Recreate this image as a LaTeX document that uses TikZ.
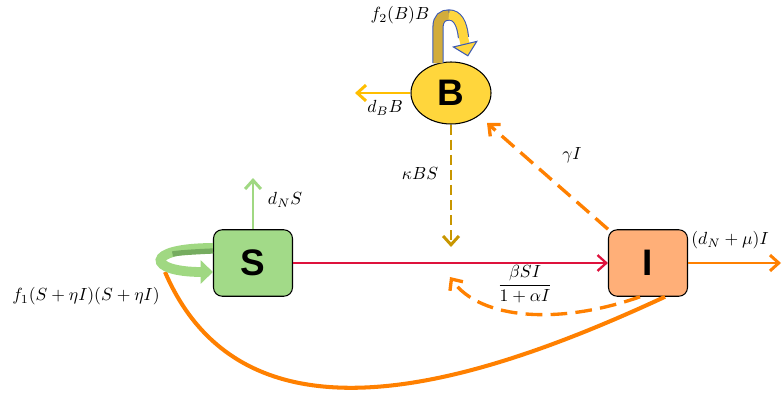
\documentclass[tikz,border=0pt]{standalone}
\usepackage{fontspec}
\setsansfont{Liberation Sans}
\usepackage{amsmath}
\usepackage{tikz}
\usetikzlibrary{shapes.geometric, arrows.meta, positioning, calc}
\definecolor{myred}{RGB}{222,18,60}
\definecolor{myorange}{RGB}{255,128,0}
\definecolor{mygold}{RGB}{200,150,0}
\definecolor{myyellow}{RGB}{255,190,0}
\definecolor{hdryellow}{RGB}{255,214,60}
\definecolor{hdrgreen}{RGB}{162,218,136}
\definecolor{hdrorange}{RGB}{255,175,120}
\definecolor{mygreen}{RGB}{160,216,130}
\definecolor{darkgreen}{RGB}{118,172,96}
\definecolor{loopgold}{RGB}{210,172,60}
\definecolor{loopblue}{RGB}{60,90,180}
\tikzset{
  block/.style={rectangle, draw=black, text width=1.2cm, align=center,
    minimum width=1.58cm, minimum height=1.33cm, rounded corners=5pt,
    line width=0.6pt, font=\fontsize{21}{24}\sffamily\bfseries\selectfont},
  blob/.style={ellipse, draw=black, fill=hdryellow, minimum width=1.6cm,
    minimum height=1.24cm, line width=0.6pt,
    font=\fontsize{21}{24}\sffamily\bfseries\selectfont},
  arrow/.style={-{Straight Barb[length=5pt, width=9pt]}, line width=1.7pt},
  dasharrow/.style={arrow, line width=1.9pt, dash pattern=on 9.5pt off 4.7pt},
  lbl/.style={font=\normalsize, inner sep=1pt}
}
\begin{document}
\begin{tikzpicture}
  \useasboundingbox (0,0) rectangle (15.64,-7.88);
  \node[blob] (B) at (9.02,-1.86) {B};
  \node[block, fill=hdrgreen] (S) at (5.06,-5.26) {S};
  \node[block, fill=hdrorange] (I) at (12.96,-5.26) {I};

  % free ends
  \coordinate (iout) at (15.62,-5.26);
  \coordinate (bout) at (7.1,-1.86);
  \coordinate (sout) at (5.06,-3.56);
  \coordinate (kb) at (9.02,-4.94);
  \coordinate (gb) at (9.74,-2.46);
  \coordinate (ret) at (9.0,-5.54);
  \coordinate (fin) at (3.3,-5.44);

  % Edges
  \draw[arrow, myred, line width=1.3pt] (S) -- (I);
  \draw[arrow, myorange] (I) -- (iout);
  \draw[arrow, myyellow] (B) -- (bout);
  \draw[arrow, mygreen] (S) -- (sout);
  \draw[arrow, mygold, dash pattern=on 5.7pt off 2.9pt] (B) -- (kb);
  \draw[dasharrow, myorange] (I.north west) -- (gb);
  \draw[dasharrow, myorange] ([xshift=-0.16cm]I.south) .. controls (11.2,-6.5) and (9.6,-6.4) .. (ret);
  \draw[myorange, line width=2.3pt] ([xshift=0.34cm]I.south) .. controls (9.5,-7.7) and (4.9,-9.15) .. (fin);

  % loop on S
  \draw[line width=5.6pt, mygreen, -{Triangle[length=7pt, width=13pt]}]
    ([yshift=0.3cm]S.west) .. controls (2.85,-4.96) and (2.95,-5.44) .. ([yshift=-0.18cm]S.west);
  \draw[line width=3pt, darkgreen]
    ([yshift=0.24cm]S.west) .. controls (3.8,-5.04) and (3.55,-5.06) .. (3.45,-5.08);

  % loop on B
  \draw[line width=6.4pt, loopblue] (8.76,-1.26) -- (8.76,-0.55) .. controls (8.76,-0.36) and (8.86,-0.3) .. (8.98,-0.3)
    .. controls (9.14,-0.3) and (9.24,-0.45) .. (9.27,-0.75);
  \draw[line width=5.2pt, loopgold] (8.76,-1.26) -- (8.76,-0.55) .. controls (8.76,-0.36) and (8.86,-0.3) .. (8.98,-0.3);
  \draw[line width=5.2pt, hdryellow, -{Triangle[length=7.5pt, width=15pt, fill=hdryellow, color=loopblue, line width=0.6pt]}]
    (8.98,-0.3) .. controls (9.14,-0.3) and (9.24,-0.45) .. (9.27,-0.75) -- (9.36,-1.13);

  % labels
  \node[lbl] (lf2) at (8.0,-0.3) {$f_2(B)B$};
  \node[lbl] (ldb) at (7.7,-2.16) {$d_BB$};
  \node[lbl] (lds) at (5.7,-4.0) {$d_NS$};
  \node[lbl] (lk) at (8.4,-3.46) {$\kappa BS$};
  \node[lbl] (lg) at (11.44,-3.1) {$\gamma I$};
  \node[lbl] (lbeta) at (10.5,-5.68) {$\dfrac{\beta SI}{1+\alpha I}$};
  \node[lbl] (ldm) at (14.6,-4.8) {$(d_N+\mu)I$};
  \node[lbl] (lf1) at (1.72,-5.92) {$f_1(S+\eta I)(S+\eta I)$};
\end{tikzpicture}
\end{document}
